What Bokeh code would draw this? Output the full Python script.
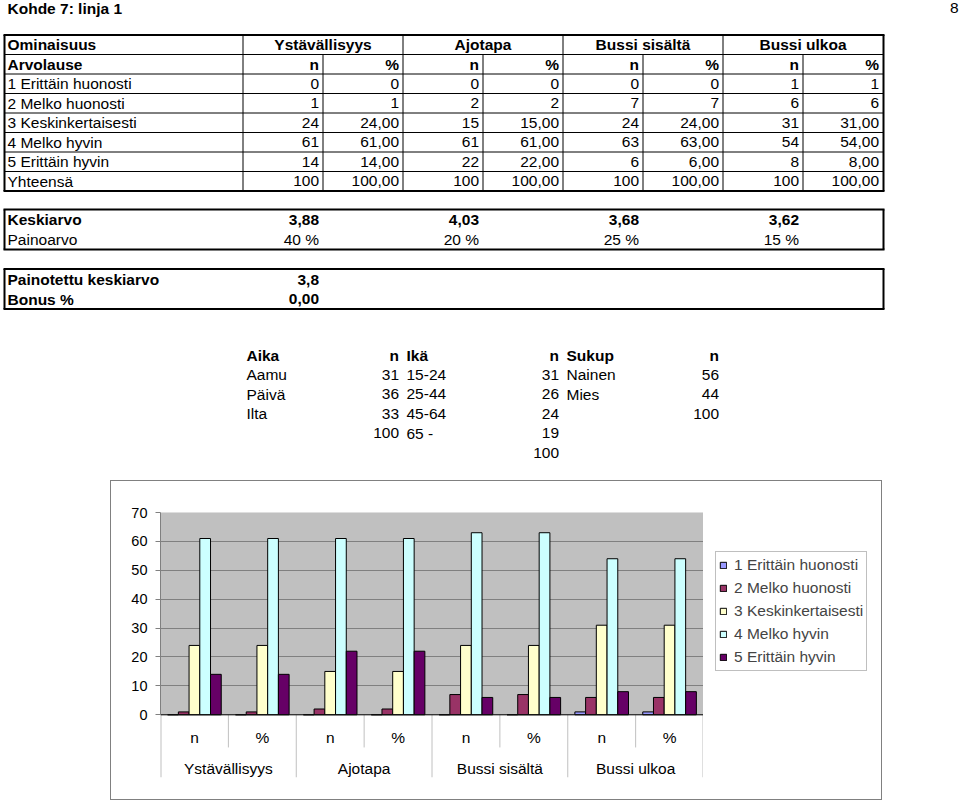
from bokeh.plotting import figure
from bokeh.models import (ColumnDataSource, Range1d, FactorRange, FixedTicker,
                          BoxAnnotation, Span, Legend, LegendItem, Spacer)
from bokeh.transform import dodge
from bokeh.layouts import row, column
from bokeh.core.properties import value
from bokeh.embed import file_html
from bokeh.resources import INLINE

FONT = "Liberation Sans"
FS = "15.5px"

# ---------------- data ----------------
title_text = "Kohde 7: linja 1"
page_no = "8"
attributes = ["Ystävällisyys", "Ajotapa", "Bussi sisältä", "Bussi ulkoa"]
subcols = ["n", "%"]
answers = ["1 Erittäin huonosti", "2 Melko huonosti", "3 Keskinkertaisesti",
           "4 Melko hyvin", "5 Erittäin hyvin"]

ystavallisyys_n = [0, 1, 24, 61, 14]
ajotapa_n = [0, 2, 15, 61, 22]
bussi_sisalta_n = [0, 7, 24, 63, 6]
bussi_ulkoa_n = [1, 6, 31, 54, 8]
ystavallisyys_pct = ["0", "1", "24,00", "61,00", "14,00"]
ajotapa_pct = ["0", "2", "15,00", "61,00", "22,00"]
bussi_sisalta_pct = ["0", "7", "24,00", "63,00", "6,00"]
bussi_ulkoa_pct = ["1", "6", "31,00", "54,00", "8,00"]
totals_n = ["100", "100", "100", "100"]
totals_pct = ["100,00", "100,00", "100,00", "100,00"]

keskiarvo = ["3,88", "4,03", "3,68", "3,62"]
painoarvo = ["40 %", "20 %", "25 %", "15 %"]
painotettu_keskiarvo = "3,8"
bonus = "0,00"

aika_labels = ["Aamu", "Päivä", "Ilta"]
aika_n = [31, 36, 33]
aika_total = 100
ika_labels = ["15-24", "25-44", "45-64", "65 -"]
ika_n = [31, 26, 24, 19]
ika_total = 100
sukup_labels = ["Nainen", "Mies"]
sukup_n = [56, 44]
sukup_total = 100

# chart series (one value per attribute x (n, %))
series_1 = [0, 0, 0, 0, 0, 0, 1, 1]
series_2 = [1, 1, 2, 2, 7, 7, 6, 6]
series_3 = [24, 24, 15, 15, 24, 24, 31, 31]
series_4 = [61, 61, 61, 61, 63, 63, 54, 54]
series_5 = [14, 14, 22, 22, 6, 6, 8, 8]
series_colors = ["#9999FF", "#993366", "#FFFFCC", "#CCFFFF", "#660066"]
y_ticks = [0, 10, 20, 30, 40, 50, 60, 70]

# ---------------- table figure (page pixel coordinates) ----------------
H1 = 480
tp = figure(width=960, height=H1, x_range=Range1d(0, 960), y_range=Range1d(H1, 0),
            x_axis_location=None, y_axis_location=None, toolbar_location=None,
            output_backend="svg", min_border=0, outline_line_color=None)
tp.grid.visible = False

C = [242.5, 322.5, 402.5, 482.5, 562.5, 642.5, 722.5, 802.5, 882.5]
LEFT, RIGHT = 4, 883
ROW_H = 19.5
TOP = 34.5
Y = [TOP + ROW_H * i for i in range(9)]

segs = dict(x0=[], y0=[], x1=[], y1=[], w=[])
def seg(x0, y0, x1, y1, w=1):
    segs["x0"].append(x0); segs["y0"].append(y0)
    segs["x1"].append(x1); segs["y1"].append(y1); segs["w"].append(w)

def box(t, b):
    seg(LEFT - 1, t, RIGHT + 1, t, 2); seg(LEFT - 1, b, RIGHT + 1, b, 2)
    seg(LEFT, t, LEFT, b, 2); seg(RIGHT, t, RIGHT, b, 2)

for y in Y[1:-1]:
    seg(LEFT, y, RIGHT, y, 1)
for j in range(4):
    seg(C[2 * j], Y[0], C[2 * j], Y[-1], 1)
    seg(C[2 * j + 1], Y[1], C[2 * j + 1], Y[-1], 1)
box(Y[0], Y[-1])
box(209, 249)
box(268.5, 308.5)
tp.segment(x0="x0", y0="y0", x1="x1", y1="y1", line_width="w", line_color="black",
           source=ColumnDataSource(segs))

entries = {}
def add(x, y, t, align="left", bold=False):
    d = entries.setdefault((align, bold), dict(x=[], y=[], t=[]))
    d["x"].append(x); d["y"].append(y); d["t"].append(str(t))

add(7, 7.5, title_text, bold=True)
add(958, 7.5, page_no, align="right")

yc = [y + ROW_H / 2 for y in Y[:-1]]
add(7, yc[0], "Ominaisuus", bold=True)
add(7, yc[1], "Arvolause", bold=True)
ns = [ystavallisyys_n, ajotapa_n, bussi_sisalta_n, bussi_ulkoa_n]
pcts = [ystavallisyys_pct, ajotapa_pct, bussi_sisalta_pct, bussi_ulkoa_pct]
for j, a in enumerate(attributes):
    add((C[2 * j] + C[2 * j + 2]) / 2, yc[0], a, align="center", bold=True)
    add(C[2 * j + 1] - 4, yc[1], subcols[0], align="right", bold=True)
    add(C[2 * j + 2] - 4, yc[1], subcols[1], align="right", bold=True)
    for i in range(5):
        add(C[2 * j + 1] - 4, yc[2 + i], ns[j][i], align="right")
        add(C[2 * j + 2] - 4, yc[2 + i], pcts[j][i], align="right")
    add(C[2 * j + 1] - 4, yc[7], totals_n[j], align="right")
    add(C[2 * j + 2] - 4, yc[7], totals_pct[j], align="right")
for i, lab in enumerate(answers):
    add(7, yc[2 + i], lab)
add(7, yc[7], "Yhteensä")

add(7, 219.3, "Keskiarvo", bold=True)
add(7, 239.2, "Painoarvo")
for j in range(4):
    add(C[2 * j + 1] - 4, 219.3, keskiarvo[j], align="right", bold=True)
    add(C[2 * j + 1] - 4, 239.2, painoarvo[j], align="right")

add(7, 279, "Painotettu keskiarvo", bold=True)
add(7, 298.8, "Bonus %", bold=True)
add(C[1] - 4, 279, painotettu_keskiarvo, align="right", bold=True)
add(C[1] - 4, 298.8, bonus, align="right", bold=True)

DY = [355 + 19.4 * k for k in range(6)]
demo = [("Aika", aika_labels, aika_n, aika_total),
        ("Ikä", ika_labels, ika_n, ika_total),
        ("Sukup", sukup_labels, sukup_n, sukup_total)]
for k, (head, labs, vals, tot) in enumerate(demo):
    xl = C[2 * k] + 3.5
    xr = C[2 * k + 2] - 4
    add(xl, DY[0], head, bold=True)
    add(xr, DY[0], "n", align="right", bold=True)
    for i, (lab, v) in enumerate(zip(labs, vals)):
        add(xl, DY[1 + i], lab)
        add(xr, DY[1 + i], v, align="right")
    add(xr, DY[1 + len(labs)], tot, align="right")

for (align, bold), d in entries.items():
    tp.text(x="x", y="y", text="t", source=ColumnDataSource(d),
            text_font=value(FONT), text_font_size=value(FS),
            text_font_style="bold" if bold else "normal",
            text_align=align, text_baseline="middle", text_color="black")

# ---------------- chart figure ----------------
factors = [(a, s) for a in attributes for s in subcols]
Y_BOTTOM = -21.7
BT, BB = 31, 22
cp = figure(width=592, height=318,
            x_range=FactorRange(factors=factors, range_padding=0, group_padding=0,
                                factor_padding=0, subgroup_padding=0),
            y_range=Range1d(Y_BOTTOM, 70), x_axis_location=None,
            toolbar_location=None, output_backend="svg",
            min_border_left=49, min_border_right=0, min_border_top=BT,
            min_border_bottom=BB, outline_line_color=None,
            background_fill_color="white", border_fill_color="white")

cp.xgrid.visible = False
cp.ygrid.ticker = FixedTicker(ticks=y_ticks[1:-1])
cp.ygrid.grid_line_color = "#808080"

yax = cp.yaxis[0]
yax.ticker = FixedTicker(ticks=y_ticks)
yax.bounds = (0, 70)
yax.axis_line_color = "#808080"
yax.major_tick_line_color = "#808080"
yax.major_tick_out = 5
yax.major_tick_in = 0
yax.minor_tick_out = 0
yax.minor_tick_in = 0
yax.major_label_standoff = 8
yax.major_label_text_font = FONT
yax.major_label_text_font_size = "14.5px"
yax.major_label_text_color = "black"

cp.add_layout(BoxAnnotation(bottom=0, top=70, fill_color="#C0C0C0", fill_alpha=1,
                            line_color=None, level="image"))

src = ColumnDataSource(dict(x=factors, s1=series_1, s2=series_2, s3=series_3,
                            s4=series_4, s5=series_5))
BW = 0.158
offsets = [-2 * BW, -BW, 0, BW, 2 * BW]
for i, col in enumerate(["s1", "s2", "s3", "s4", "s5"]):
    cp.vbar(x=dodge("x", offsets[i], range=cp.x_range), top=col, width=BW,
            source=src, fill_color=series_colors[i], line_color="black",
            line_width=1)

# category labels below the value axis
cp.text(x="x", y="y", text="t",
        source=ColumnDataSource(dict(x=factors, y=[-7.85] * len(factors),
                                     t=[s for (_, s) in factors])),
        text_font=value(FONT), text_font_size=value(FS), text_align="center",
        text_baseline="middle", text_color="black")
cp.text(x="x", y="y", text="t",
        source=ColumnDataSource(dict(x=attributes, y=[-18.6] * len(attributes),
                                     t=attributes)),
        text_font=value(FONT), text_font_size=value(FS), text_align="center",
        text_baseline="middle", text_color="black")

SEP = "#C0C0C0"
cp.segment(x0=dodge("x", 0.5, range=cp.x_range), y0=0,
           x1=dodge("x", 0.5, range=cp.x_range), y1=-11.3,
           source=ColumnDataSource(dict(x=[(a, "n") for a in attributes])),
           line_color=SEP, line_width=1)
cp.segment(x0=dodge("x", -0.5, range=cp.x_range), y0=0,
           x1=dodge("x", -0.5, range=cp.x_range), y1=Y_BOTTOM,
           source=ColumnDataSource(dict(x=[(a, "n") for a in attributes[1:]])),
           line_color=SEP, line_width=1)
cp.segment(x0=dodge("x", -0.5, range=cp.x_range), y0=0,
           x1=dodge("x", -0.5, range=cp.x_range), y1=Y_BOTTOM,
           source=ColumnDataSource(dict(x=[(attributes[0], "n")])),
           line_color=SEP, line_width=2)
cp.segment(x0=dodge("x", 0.5, range=cp.x_range), y0=0,
           x1=dodge("x", 0.5, range=cp.x_range), y1=Y_BOTTOM,
           source=ColumnDataSource(dict(x=[(attributes[-1], "%")])),
           line_color=SEP, line_width=2)

# plot-area border and zero line
cp.add_layout(BoxAnnotation(bottom=0, top=70, fill_alpha=0, line_color="#808080",
                            line_width=1))
cp.add_layout(Span(location=0, dimension="width", line_color="black", line_width=1))

# ---------------- legend figure (right of the plot area) ----------------
lf = figure(width=178, height=318, x_range=Range1d(0, 1), y_range=Range1d(0, 1),
            x_axis_location=None, y_axis_location=None, toolbar_location=None,
            output_backend="svg", min_border_left=0, min_border_right=0,
            min_border_top=BT, min_border_bottom=BB, outline_line_color=None,
            background_fill_color="white", border_fill_color="white")
lf.grid.visible = False
keys = []
for i in range(5):
    keys.append(lf.vbar(x=[5], top=[1], width=0.1, fill_color=series_colors[i],
                        line_color="black", line_width=1))
legend = Legend(items=[LegendItem(label=answers[i], renderers=[keys[i]]) for i in range(5)],
                location=(12, 106), margin=0, padding=3, spacing=3,
                label_height=20, glyph_height=8, glyph_width=8, label_standoff=7,
                label_text_font=FONT, label_text_font_size=FS,
                border_line_color="#808080", background_fill_color="white",
                background_fill_alpha=1)
lf.add_layout(legend)

# ---------------- outer chart frame built from thin grey spacers ----------------
bg = {"background-color": "#808080"}
inner = row(cp, lf, spacing=0)
mid = column(Spacer(width=770, height=1, styles=bg), inner,
             Spacer(width=770, height=1, styles=bg), spacing=0)
chart_row = row(Spacer(width=110, height=320),
                Spacer(width=1, height=320, styles=bg), mid,
                Spacer(width=1, height=320, styles=bg), spacing=0)
open("out.html", "w").write(file_html([tp, chart_row], INLINE))
